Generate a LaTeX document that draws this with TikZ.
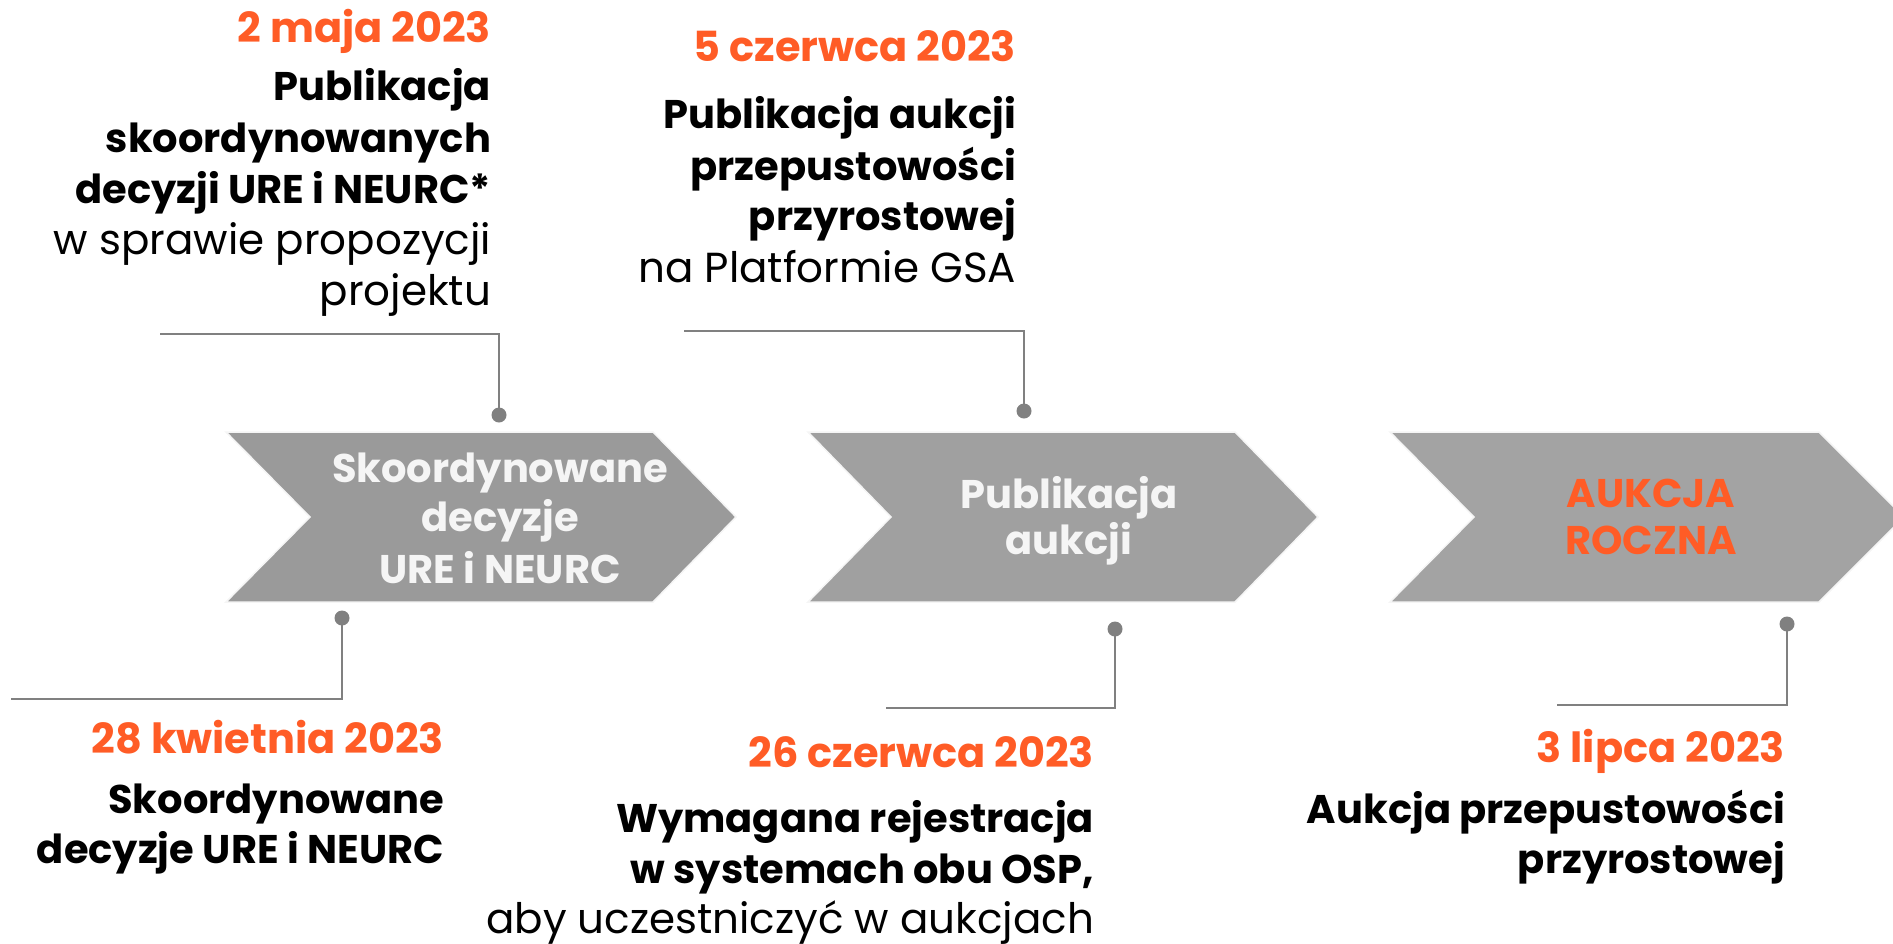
\documentclass[tikz,border=0pt]{standalone}
\usepackage{fontspec}
\setmainfont{Poppins}
\definecolor{orng}{HTML}{FF5C26}
\definecolor{lineg}{HTML}{808080}
\definecolor{chevA}{HTML}{9A9A9A}
\definecolor{chevB}{HTML}{A0A0A0}
\definecolor{chevC}{HTML}{A3A3A3}
\definecolor{chevtxt}{HTML}{F5F5F5}
\newcommand{\fsb}{\fontsize{40}{48}\selectfont}
\newcommand{\fsd}{\fontsize{41.5}{48}\selectfont}
\newcommand{\fsl}{\fontsize{42}{48}\selectfont}
\begin{document}
\begin{tikzpicture}[x=1pt,y=-1pt,
  every node/.style={inner sep=0pt, outer sep=0pt},
  datet/.style={font=\fsd\bfseries, text=orng, anchor=base east},
  boldt/.style={font=\fsb\bfseries, text=black, anchor=base east},
  lightt/.style={font=\fsl, text=black, anchor=base east},
  chevt/.style={font=\fsb\bfseries, text=chevtxt, anchor=base},
  chevo/.style={font=\fsb\bfseries, text=orng, anchor=base},
  conn/.style={draw=lineg, line width=2pt},
  dot/.style={circle, fill=lineg, minimum size=15pt},
  chevron/.style={draw=black!4, line width=1.5pt},
]
\useasboundingbox (0,0) rectangle (1893,943);
\clip (0,0) rectangle (1893,943);

% chevrons
\fill[chevA, chevron] (226,432) -- (653,432) -- (736,517) -- (653,602) -- (226,602) -- (310,517) -- cycle;
\fill[chevB, chevron] (808,432) -- (1235,432) -- (1318,517) -- (1235,602) -- (808,602) -- (891,517) -- cycle;
\fill[chevC, chevron] (1390,432) -- (1819,432) -- (1904,517) -- (1819,602) -- (1390,602) -- (1474,517) -- cycle;

\node[chevt] (c1a) at (500,482) {Skoordynowane};
\node[chevt] (c1b) at (500,531) {decyzje};
\node[chevt] (c1c) at (500,583) {URE i NEURC};
\node[chevt] (c2a) at (1069,508) {Publikacja};
\node[chevt] (c2b) at (1069,554) {aukcji};
\node[chevo] (c3a) at (1651,507) {AUKCJA};
\node[chevo] (c3b) at (1651,554) {ROCZNA};

% top-left block
\node[datet] (t1d) at (491,42) {2 maja 2023};
\node[boldt] (t1a) at (491,100) {Publikacja};
\node[boldt] (t1b) at (491,152) {skoordynowanych};
\node[boldt] (t1c) at (491,203) {decyzji URE i NEURC*};
\node[lightt] (t1e) at (491,254) {w sprawie propozycji};
\node[lightt] (t1f) at (491,305) {projektu};
\node[dot] (d1) at (499,415) {};
\coordinate (k1a) at (499,334);
\coordinate (k1b) at (160,334);
\draw[conn] (d1.center) -- (k1a) -- (k1b);

% top-middle block
\node[datet] (t2d) at (1016,61) {5 czerwca 2023};
\node[boldt] (t2a) at (1016,128) {Publikacja aukcji};
\node[boldt] (t2b) at (1016,180) {przepustowości};
\node[boldt] (t2c) at (1016,230) {przyrostowej};
\node[lightt] (t2e) at (1016,282) {na Platformie GSA};
\node[dot] (d2) at (1024,411) {};
\coordinate (k2a) at (1024,331);
\coordinate (k2b) at (684,331);
\draw[conn] (d2.center) -- (k2a) -- (k2b);

% bottom-left block
\node[dot] (d3) at (342,618) {};
\coordinate (k3a) at (342,699);
\coordinate (k3b) at (11,699);
\draw[conn] (d3.center) -- (k3a) -- (k3b);
\node[datet] (b1d) at (444,753) {28 kwietnia 2023};
\node[boldt] (b1a) at (444,813) {Skoordynowane};
\node[boldt] (b1b) at (444,863) {decyzje URE i NEURC};

% bottom-middle block
\node[dot] (d4) at (1115,629) {};
\coordinate (k4a) at (1115,708);
\coordinate (k4b) at (886,708);
\draw[conn] (d4.center) -- (k4a) -- (k4b);
\node[datet] (b2d) at (1094,767) {26 czerwca 2023};
\node[boldt] (b2a) at (1094,832) {Wymagana rejestracja};
\node[boldt] (b2b) at (1094,883) {w systemach obu OSP,};
\node[lightt] (b2c) at (1094,933) {aby uczestniczyć w aukcjach};

% bottom-right block
\node[dot] (d5) at (1787,624) {};
\coordinate (k5a) at (1787,705);
\coordinate (k5b) at (1557,705);
\draw[conn] (d5.center) -- (k5a) -- (k5b);
\node[datet] (b3d) at (1785,762) {3 lipca 2023};
\node[boldt] (b3a) at (1785,823) {Aukcja przepustowości};
\node[boldt] (b3b) at (1785,873) {przyrostowej};
\end{tikzpicture}
\end{document}
